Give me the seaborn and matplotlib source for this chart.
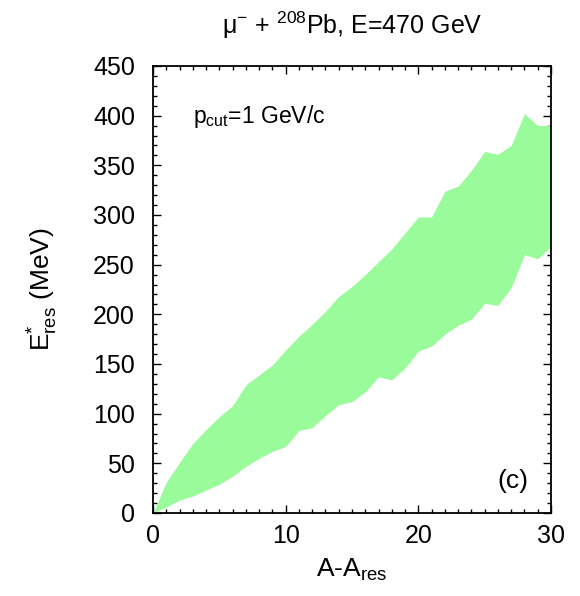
import matplotlib
matplotlib.use("Agg")
import matplotlib.pyplot as plt
from matplotlib.ticker import MultipleLocator
import seaborn as sns
import pandas as pd

A = list(range(0, 31))
E_upper = [0, 31, 51, 70, 84, 97, 108, 129, 139, 149, 164, 178, 190, 203, 218, 228,
           240, 253, 266, 282, 298, 298, 324, 329, 345, 364, 361, 370, 402, 390, 390]
E_lower = [0, 6, 13, 17, 23, 29, 37, 47, 55, 62, 67, 83, 86, 98, 109, 112,
           122, 137, 134, 146, 163, 168, 180, 189, 195, 211, 209, 227, 260, 256, 268]

df = pd.DataFrame({"A": A, "upper": E_upper, "lower": E_lower})

sns.set_style("ticks")
plt.rcParams['font.family'] = ['Liberation Sans', 'DejaVu Sans']
plt.rcParams['mathtext.fontset'] = 'custom'
plt.rcParams['mathtext.rm'] = 'Liberation Sans'
plt.rcParams['mathtext.it'] = 'Liberation Sans'
for k in ['text.color', 'axes.labelcolor', 'xtick.color', 'ytick.color', 'axes.edgecolor']:
    plt.rcParams[k] = 'black'

fig = plt.figure(figsize=(5.8, 5.96), dpi=100)
ax = fig.add_axes([0.2638, 0.1393, 0.6862, 0.75])

sns.lineplot(data=df, x="A", y="upper", ax=ax, linewidth=0, color="#98fb98")
sns.lineplot(data=df, x="A", y="lower", ax=ax, linewidth=0, color="#98fb98")
ax.fill_between(df["A"], df["lower"], df["upper"], color="#9afb9a", linewidth=0)

ax.set_xlim(0, 30)
ax.set_ylim(0, 450)
ax.xaxis.set_major_locator(MultipleLocator(10))
ax.xaxis.set_minor_locator(MultipleLocator(1))
ax.yaxis.set_major_locator(MultipleLocator(50))
ax.yaxis.set_minor_locator(MultipleLocator(10))
ax.tick_params(which="both", direction="in", top=True, right=True, color="black",
               labelcolor="black", width=1)
ax.tick_params(which="major", length=6, labelsize=18)
ax.tick_params(axis="x", which="major", pad=8)
ax.tick_params(axis="y", which="major", pad=13)
ax.tick_params(which="minor", length=3)
for s in ax.spines.values():
    s.set_linewidth(1.3)
    s.set_color("black")

ax.set_xlabel(r"A-A$_{\mathrm{res}}$", fontsize=19, labelpad=6, color="black")
ax.set_ylabel(r"E$^{*}_{\mathrm{res}}$ (MeV)", fontsize=19, labelpad=24, color="black")

fig.text(0.607, 0.943, "μ$^{-}$ + $^{208}$Pb, E=470 GeV", ha="center", va="baseline",
         fontsize=18, color="black")
ax.text(0.1, 0.888, r"p$_{\mathrm{cut}}$=1 GeV/c", transform=ax.transAxes, fontsize=16.5,
        ha="left", va="center", color="black")
ax.text(0.942, 0.072, "(c)", transform=ax.transAxes, fontsize=19, ha="right", va="center",
        color="black")

fig.savefig("out.png", dpi=100)
